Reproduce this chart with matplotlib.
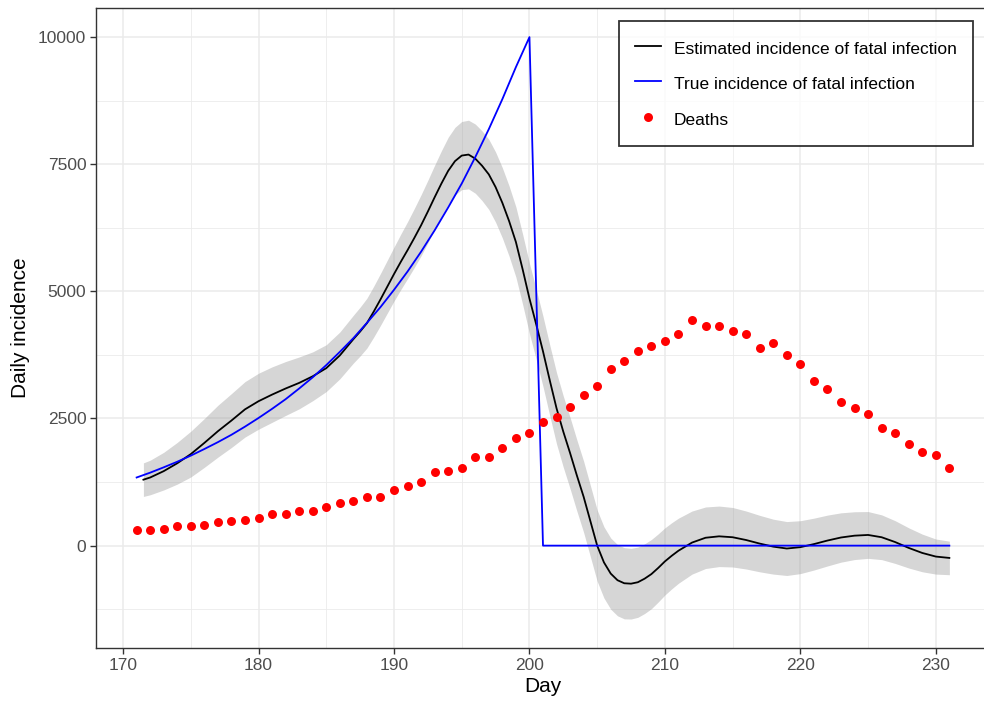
import matplotlib
matplotlib.use("Agg")
import matplotlib.pyplot as plt
import numpy as np

plt.rcParams['font.family'] = ['Liberation Sans', 'DejaVu Sans']

# deaths per day
death_days = list(range(171, 232))
deaths = [301, 314, 334, 387, 387, 400, 458, 478, 504, 537,
          622, 616, 688, 674, 760, 838, 871, 956, 963, 1094,
          1173, 1244, 1448, 1461, 1519, 1742, 1742, 1919, 2115, 2214,
          2436, 2535, 2725, 2960, 3137, 3464, 3628, 3831, 3935, 4028,
          4165, 4446, 4322, 4322, 4224, 4165, 3896, 3975, 3739, 3562,
          3228, 3071, 2823, 2711, 2593, 2305, 2214, 1998, 1847, 1774,
          1519]

# true incidence of fatal infection
true_days = list(range(171, 232))
true_inc = [1340, 1435, 1540, 1650, 1770, 1900, 2035, 2180, 2340, 2510,
            2690, 2880, 3090, 3310, 3550, 3810, 4080, 4380, 4690, 5030,
            5390, 5780, 6200, 6650, 7120, 7640, 8190, 8780, 9410, 10000,
            0, 0, 0, 0, 0, 0, 0, 0, 0, 0,
            0, 0, 0, 0, 0, 0, 0, 0, 0, 0,
            0, 0, 0, 0, 0, 0, 0, 0, 0, 0,
            0]

# estimated incidence (finer steps around the peak) and half width of the band
est_days = ([171.5] + list(range(172, 186))
            + [186 + 0.5 * i for i in range(51)]
            + list(range(212, 232)))
est_inc = [1297,
           1340, 1465, 1620, 1800, 2020, 2250, 2460, 2680, 2840, 2970,
           3090, 3200, 3330, 3490,
           # 186 .. 211 every half day
           3740, 3900, 4060, 4210, 4375, 4600, 4840, 5090, 5340, 5580,
           5810, 6050, 6300, 6570, 6850, 7120, 7370, 7560, 7670, 7690,
           7610, 7470, 7300, 7050, 6740, 6380, 5970, 5430, 4860, 4350,
           3820, 3250, 2700, 2240, 1820, 1380, 960, 480, 0, -330,
           -550, -680, -740, -748, -720, -650, -560, -440, -310, -200,
           -100,
           # 212 .. 231
           60, 155, 183, 165, 110, 40, -20, -57, -30, 30,
           100, 160, 196, 210, 165, 70, -45, -144, -215, -242]
band_half = [330,
             340, 370, 410, 450, 480, 510, 530, 545, 550, 545,
             530, 510, 480, 460,
             460, 465, 470, 480, 490, 500, 510, 520, 530, 545,
             560, 580, 600, 615, 630, 645, 660, 665, 670, 675,
             680, 685, 690, 690, 690, 690, 690, 690, 690, 690,
             690, 695, 700, 700, 700, 700, 700, 700, 700, 700,
             700, 700, 700, 695, 690, 685, 680, 670, 660, 650,
             640,
             620, 605, 595, 585, 570, 555, 540, 530, 520, 510,
             500, 485, 470, 460, 440, 420, 395, 370, 345, 330]

x_ticks = [170, 180, 190, 200, 210, 220, 230]
y_ticks = [0, 2500, 5000, 7500, 10000]

fig = plt.figure(figsize=(9.84, 7.01), dpi=100)
ax = fig.add_axes([96 / 984, 53 / 701, 894 / 984, 640 / 701])

est = np.array(est_inc)
half = np.array(band_half)
ax.fill_between(est_days, est - half, est + half, color='#999999', alpha=0.4,
                linewidth=0, zorder=2)
ax.plot(est_days, est_inc, color='black', lw=1.3, zorder=3,
        label='Estimated incidence of fatal infection')
ax.plot(true_days, true_inc, color='#0000ff', lw=1.3, zorder=3,
        label='True incidence of fatal infection')
ax.scatter(death_days, deaths, color='#ff0000', s=42, zorder=4,
           linewidths=0, label='Deaths')

ax.set_xlim(168, 234)
ax.set_ylim(-2013, 10572)
ax.set_xticks(x_ticks)
ax.set_yticks(y_ticks)
ax.set_xticks([175, 185, 195, 205, 215, 225], minor=True)
ax.set_yticks([-1250, 1250, 3750, 6250, 8750], minor=True)
ax.grid(True, which='major', color='#ebebeb', lw=1.1, zorder=0)
ax.grid(True, which='minor', color='#ebebeb', lw=0.6, zorder=0)
ax.set_axisbelow(True)
ax.tick_params(which='major', length=4, width=1, color='#333333',
               labelsize=12.5, labelcolor='#4d4d4d', pad=3)
ax.tick_params(which='minor', length=0)
for sp in ax.spines.values():
    sp.set_color('#333333')
    sp.set_linewidth(1)

ax.set_xlabel('Day', fontsize=15, labelpad=3)
ax.set_ylabel('Daily incidence', fontsize=15, labelpad=6)

leg = ax.legend(loc='upper right', bbox_to_anchor=(0.981, 0.9797), fontsize=12.5,
                frameon=True, fancybox=False, edgecolor='black',
                handlelength=1.5, handleheight=1.5, handletextpad=0.7,
                borderpad=0.95, labelspacing=0.82, borderaxespad=0)
leg.get_frame().set_linewidth(1.3)

fig.savefig('out.png', dpi=100)
